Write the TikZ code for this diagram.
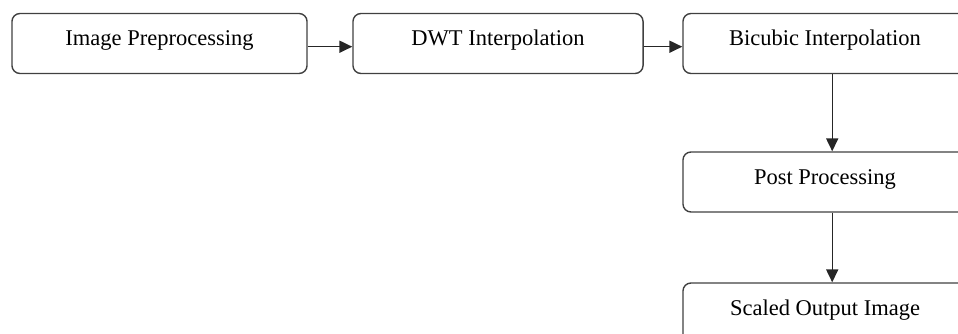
\documentclass[tikz,border=0pt]{standalone}
\usepackage{fontspec}
\setmainfont{Liberation Serif}
\usetikzlibrary{arrows.meta}

\begin{document}
\begin{tikzpicture}[x=0.025cm, y=-0.025cm,
    stage/.style={draw=black!75, line width=1pt, rounded corners=0.2cm,
        minimum width=#1, text height=0.8cm, text depth=0.7cm,
        inner xsep=0pt, inner ysep=0pt, font=\fontsize{16}{19}\selectfont},
    flow/.style={-{Triangle[length=0.32cm,width=0.3cm]}, line width=1pt, black!85}]
    \useasboundingbox (0,0) rectangle (958,334);
    \clip (0,0) rectangle (958,334);

    % top row
    \node[stage=7.375cm] (prep) at (159.5,43.5) {Image Preprocessing};
    \node[stage=7.25cm] (dwt) at (498,43.5) {DWT Interpolation};
    \node[stage=7.1cm] (bicubic) at (825,43.5) {Bicubic Interpolation};
    % right column
    \node[stage=7.1cm] (post) at (825,182) {Post Processing};
    \node[stage=7.1cm] (scaled) at (825,313) {Scaled Output Image};

    \draw[flow] ([yshift=-0.08cm]prep.east) -- ([yshift=-0.08cm]dwt.west);
    \draw[flow] ([yshift=-0.08cm]dwt.east) -- ([yshift=-0.08cm]bicubic.west);
    \draw[flow] ([xshift=0.18cm]bicubic.south) -- ([xshift=0.18cm]post.north);
    \draw[flow] ([xshift=0.18cm]post.south) -- ([xshift=0.18cm]scaled.north);
\end{tikzpicture}
\end{document}
